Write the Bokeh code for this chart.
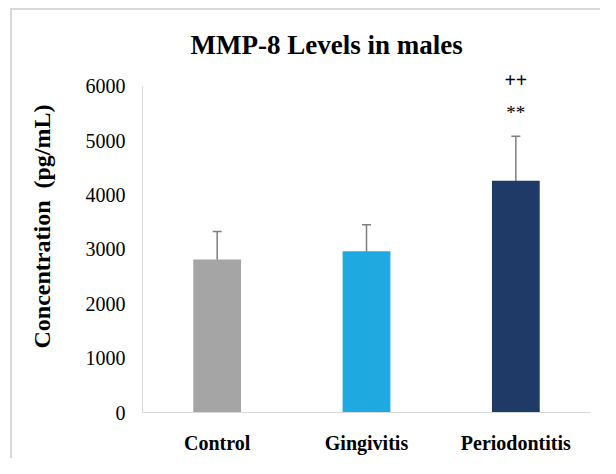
from bokeh.plotting import figure
from bokeh.models import (ColumnDataSource, FactorRange, Range1d, FixedTicker,
                          Whisker, TeeHead)
from bokeh.core.properties import value
from bokeh.embed import file_html
from bokeh.resources import INLINE

# ---- data ----
categories = ["Control", "Gingivitis", "Periodontitis"]
means = [2815, 2965, 4260]
errors = [515, 490, 820]
bar_colors = ["#A5A5A5", "#1EA9E1", "#1F3A66"]
y_ticks = [0, 1000, 2000, 3000, 4000, 5000, 6000]
sig_category = "Periodontitis"
sig_labels = ["**", "++"]

FONT = "Liberation Serif"

src = ColumnDataSource(dict(
    x=categories,
    top=means,
    color=bar_colors,
    lower=[m - e for m, e in zip(means, errors)],
    upper=[m + e for m, e in zip(means, errors)],
))

p = figure(
    width=600, height=458,
    x_range=FactorRange(*categories),
    y_range=Range1d(0, 6400),
    output_backend="svg", toolbar_location=None,
    min_border_left=142, min_border_right=10,
    min_border_top=64, min_border_bottom=46,
)
p.outline_line_color = None
p.xgrid.grid_line_color = None
p.ygrid.grid_line_color = None
p.background_fill_color = "white"
p.border_fill_color = None
# outer chart-area border (top and left edges visible), drawn behind the canvas
p.styles = {
    "background": ("linear-gradient(#D9D9D9, #D9D9D9) 10px 8px / 2px 100% no-repeat, "
                   "linear-gradient(#D9D9D9, #D9D9D9) 10px 8px / 100% 2px no-repeat, "
                   "white"),
}

# title
p.title.text = "MMP-8 Levels in males"
p.title.text_font = FONT
p.title.text_font_style = "bold"
p.title.text_font_size = "27px"
p.title.text_color = "black"
p.title.align = "left"
p.title.offset = 48
p.title.standoff = 10

# bars
p.vbar(x="x", top="top", width=0.32, color="color", line_color=None, source=src)

# error bars
w = Whisker(base="x", upper="upper", lower="lower", source=src,
            line_color="#7F7F7F", line_width=1.5,
            upper_head=TeeHead(size=9, line_color="#7F7F7F", line_width=1.5),
            lower_head=TeeHead(size=9, line_color="#7F7F7F", line_width=1.5))
p.add_layout(w)

# significance markers above the Periodontitis bar
i = categories.index(sig_category)
top_err = means[i] + errors[i]
p.text(x=[sig_category], y=[top_err + 440], text=[sig_labels[0]],
       text_font=value(FONT), text_font_size="19px", text_color="black",
       text_align="center", text_baseline="middle")
p.text(x=[sig_category], y=[top_err + 1030], text=[sig_labels[1]],
       text_font=value(FONT), text_font_size="20px", text_font_style="bold",
       text_color="black", text_align="center", text_baseline="middle")

# y axis
ya = p.yaxis[0]
ya.ticker = FixedTicker(ticks=y_ticks)
ya.bounds = (0, 6000)
ya.axis_line_color = "#D9D9D9"
ya.axis_line_width = 1
ya.major_tick_line_color = None
ya.minor_tick_line_color = None
ya.major_tick_out = 0
ya.major_tick_in = 0
ya.major_label_standoff = 17
ya.major_label_text_font = FONT
ya.major_label_text_font_size = "20px"
ya.major_label_text_color = "black"
ya.axis_label = "\u00a0\u00a0\u00a0\u00a0Concentration\u00a0\u00a0(pg/mL)"
ya.axis_label_text_font = FONT
ya.axis_label_text_font_style = "bold"
ya.axis_label_text_font_size = "24px"
ya.axis_label_text_color = "black"
ya.axis_label_standoff = 28

# x axis
xa = p.xaxis[0]
xa.axis_line_color = "#D9D9D9"
xa.axis_line_width = 1
xa.major_tick_line_color = None
xa.minor_tick_line_color = None
xa.major_tick_out = 0
xa.major_tick_in = 0
xa.major_label_standoff = 19
xa.major_label_text_font = FONT
xa.major_label_text_font_style = "bold"
xa.major_label_text_font_size = "20px"
xa.major_label_text_color = "black"

open("out.html", "w").write(file_html(p, INLINE))
